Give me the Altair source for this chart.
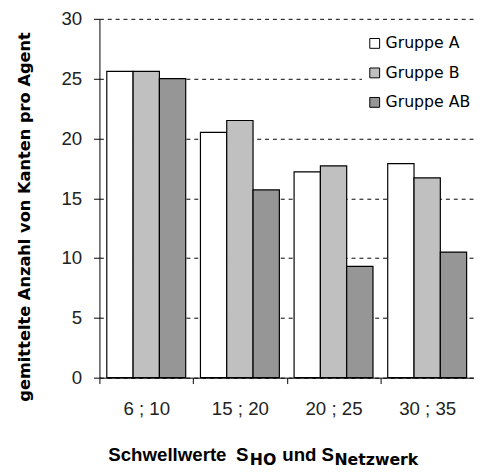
import altair as alt
import pandas as pd

categories = ["6 ; 10", "15 ; 20", "20 ; 25", "30 ; 35"]
groups = ["Gruppe A", "Gruppe B", "Gruppe AB"]
gruppe_a = [25.6, 20.5, 17.2, 17.9]
gruppe_b = [25.6, 21.5, 17.7, 16.7]
gruppe_ab = [25.0, 15.7, 9.3, 10.5]
colors = ["#ffffff", "#c0c0c0", "#969696"]
y_ticks = [0, 5, 10, 15, 20, 25, 30]

rows = []
for g, vals in zip(groups, [gruppe_a, gruppe_b, gruppe_ab]):
    for c, v in zip(categories, vals):
        rows.append({"cat": c, "grp": g, "val": v})
df = pd.DataFrame(rows)

W, H = 381, 365

bars = alt.Chart(df).mark_bar(stroke="black", strokeWidth=1.2).encode(
    x=alt.X("cat:N", sort=categories,
            scale=alt.Scale(paddingInner=0, paddingOuter=0),
            axis=alt.Axis(title=None, labelAngle=0, tickBand="extent",
                          tickSize=6, labelPadding=16, domainColor="black",
                          tickColor="black", grid=False)),
    xOffset=alt.XOffset("grp:N", sort=groups,
                        scale=alt.Scale(paddingInner=0, paddingOuter=0.28)),
    y=alt.Y("val:Q", scale=alt.Scale(domain=[0, 30], nice=False),
            axis=alt.Axis(values=y_ticks, title="gemittelte Anzahl von Kanten pro Agent",
                          titleFont="DejaVu Sans", titleFontSize=16.5, titleFontWeight="bold",
                          titleX=-76, titleY=201, titleAlign="center", titleBaseline="middle",
                          titleAngle=270,
                          tickSize=6, labelPadding=12, domainColor="black", tickColor="black",
                          grid=True, gridColor="black", gridDash=[4, 4], gridWidth=1,
                          gridOpacity=1)),
    color=alt.Color("grp:N", sort=groups,
                    scale=alt.Scale(domain=groups, range=colors),
                    legend=alt.Legend(title=None, orient="none", legendX=267, legendY=12,
                                      fillColor="white", padding=5, symbolType="square",
                                      symbolSize=100, symbolStrokeColor="black",
                                      symbolStrokeWidth=1, labelFont="DejaVu Sans",
                                      labelFontSize=16, labelColor="black",
                                      labelOffset=3, rowPadding=14, symbolOpacity=1)),
)

title_parts = [
    ("Schwellwerte", 9, 450, "Liberation Sans", 19),
    ("S", 139, 450, "Liberation Sans", 19),
    ("HO", 153, 454, "DejaVu Sans", 16),
    ("und", 186, 450, "Liberation Sans", 19),
    ("S", 226, 450, "Liberation Sans", 19),
    ("Netzwerk", 239, 454, "DejaVu Sans", 16),
]
layers = [bars]
for txt, px, py, fnt, fs in title_parts:
    layers.append(
        alt.Chart(pd.DataFrame({"t": [txt]})).mark_text(
            align="left", baseline="alphabetic", font=fnt, fontSize=fs,
            fontWeight="bold", color="black"
        ).encode(x=alt.value(px), y=alt.value(py), text="t:N")
    )

chart = alt.layer(*layers).properties(
    width=W, height=H,
    autosize=alt.AutoSizeParams(type="none"),
    padding={"left": 93, "top": 7, "right": 0, "bottom": 96},
).configure_view(stroke=None).configure_axis(
    labelFont="Liberation Sans", labelFontSize=19, labelColor="#222222"
)

chart.save("out.html", embed_options={"renderer": "svg", "actions": False})
